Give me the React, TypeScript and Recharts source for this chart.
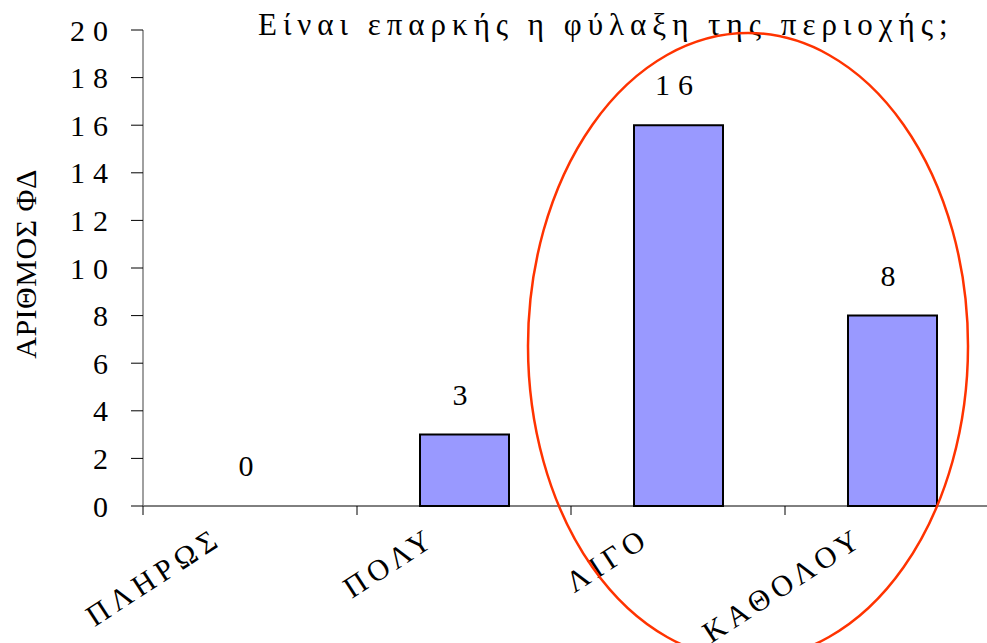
import React from "react";
import { ComposedChart, Bar, Line, XAxis, YAxis, LabelList, Label } from "recharts";

const categories = ["ΠΛΗΡΩΣ", "ΠΟΛΥ", "ΛΙΓΟ", "ΚΑΘΟΛΟΥ"];
const counts = [0, 3, 16, 8];
const yTicks = [0, 2, 4, 6, 8, 10, 12, 14, 16, 18, 20];
const title = "Είναι επαρκής η φύλαξη της περιοχής;";
const yTitle = "ΑΡΙΘΜΟΣ ΦΔ";

const data = categories.map((c, i) => ({ name: c, value: counts[i] }));

const FONT = "'Liberation Serif', 'DejaVu Serif', serif";

const CHART_W = 1010;
const MARGIN = { top: 30, right: 11, left: 0, bottom: 136 };
const Y_W = 143;
const PLOT_W = CHART_W - MARGIN.right - MARGIN.left - Y_W;
const BAND = PLOT_W / categories.length;

// rotated category labels + tick marks on the category boundaries
const CatTick = (props: any) => {
  const { x, y, payload, index } = props;
  const bx = x - 26;
  const by = y + 37;
  const left = x - BAND / 2;
  const right = x + BAND / 2;
  return (
    <g>
      <line x1={left} y1={y} x2={left} y2={y + 9} stroke="#000" />
      {index === categories.length - 1 && (
        <line x1={right} y1={y} x2={right} y2={y + 9} stroke="#000" />
      )}
      <text
        x={bx}
        y={by}
        transform={`rotate(-33, ${bx}, ${by})`}
        textAnchor="end"
        fontFamily={FONT}
        fontSize={30}
        letterSpacing={5.5}
        fill="#000"
      >
        {payload.value}
      </text>
    </g>
  );
};

export default function App() {
  return (
    <div style={{ position: "absolute", left: 0, top: 0, width: 987, height: 643, overflow: "hidden", background: "#fff" }}>
      <ComposedChart width={CHART_W} height={643} data={data} margin={MARGIN}>
        <XAxis
          dataKey="name"
          height={1}
          axisLine={{ stroke: "#000", strokeWidth: 1 }}
          tickLine={false}
          tickSize={0}
          tickMargin={0}
          tick={<CatTick />}
          interval={0}
        />
        <YAxis
          width={Y_W}
          domain={[0, 20]}
          ticks={yTicks}
          interval={0}
          axisLine={{ stroke: "#808080", strokeWidth: 1.5 }}
          tickLine={{ stroke: "#000" }}
          tickSize={12}
          tickMargin={15}
          tick={{ fill: "#000", fontFamily: FONT, fontSize: 30, letterSpacing: 8 }}
        >
          <Label
            content={() => (
              <text
                x={36}
                y={264}
                transform="rotate(-90, 36, 264)"
                textAnchor="middle"
                fontFamily={FONT}
                fontSize={30}
                letterSpacing={0.5}
                fill="#000"
              >
                {yTitle}
              </text>
            )}
          />
        </YAxis>
        <Bar
          dataKey="value"
          barSize={89}
          fill="#9999FF"
          stroke="#000"
          strokeWidth={2}
          isAnimationActive={false}
        />
        {/* invisible series carrying the value labels (also for the 0 bar) */}
        <Line
          dataKey="value"
          stroke="none"
          dot={false}
          activeDot={false}
          legendType="none"
          isAnimationActive={false}
        >
          <LabelList
            dataKey="value"
            position="top"
            offset={30}
            formatter={(v: any) => String(v)}
            fill="#000"
            fontFamily={FONT}
            fontSize={30}
            letterSpacing={8}
          />
        </Line>
      </ComposedChart>
      <div
        style={{
          position: "absolute",
          left: 258,
          top: 7,
          fontFamily: FONT,
          fontSize: 31,
          letterSpacing: 6,
          whiteSpace: "nowrap",
          color: "#000",
        }}
      >
        {title}
      </div>
      <svg width={987} height={643} style={{ position: "absolute", left: 0, top: 0, pointerEvents: "none" }}>
        <ellipse cx={748} cy={346} rx={220} ry={313} fill="none" stroke="#FF3300" strokeWidth={2.5} />
      </svg>
    </div>
  );
}
